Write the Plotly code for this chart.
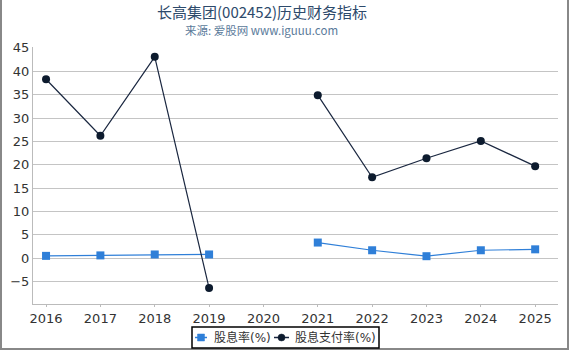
import plotly.graph_objects as go

years = [2016, 2017, 2018, 2019, 2020, 2021, 2022, 2023, 2024, 2025]
dividend_yield = [0.5, 0.6, 0.8, 0.8, None, 3.35, 1.7, 0.43, 1.7, 1.9]
payout_ratio = [38.3, 26.2, 43.1, -6.4, None, 34.9, 17.3, 21.4, 25.1, 19.7]
y_ticks = [-5, 0, 5, 10, 15, 20, 25, 30, 35, 40, 45]
series_names = ["股息率(%)", "股息支付率(%)"]
series_colors = ["#2f7fd8", "#0d1b2e"]
line_colors = ["#2f7fd8", "#1a2740"]

W, H = 570, 350
ml, mr, mt, mb = 33, 12, 47, 46
pw, ph = W - ml - mr, H - mt - mb

fig = go.Figure()
fig.add_trace(go.Scatter(
    x=years, y=dividend_yield, name=series_names[0], mode="lines+markers",
    line=dict(color=line_colors[0], width=1.2),
    marker=dict(symbol="square", size=8, color=series_colors[0]),
    connectgaps=False, showlegend=False))
fig.add_trace(go.Scatter(
    x=years, y=payout_ratio, name=series_names[1], mode="lines+markers",
    line=dict(color=line_colors[1], width=1.2),
    marker=dict(symbol="circle", size=8, color=series_colors[1]),
    connectgaps=False, showlegend=False))

def px_x(p):
    return (p - ml) / pw

def px_y(p):
    return (H - mb - p) / ph

# outer frame
fig.add_shape(type="rect", xref="paper", yref="paper",
              x0=px_x(1), x1=px_x(568), y0=px_y(349), y1=px_y(-5),
              line=dict(color="#888888", width=2), fillcolor="rgba(0,0,0,0)", layer="below")

# title
fig.add_annotation(text="长高集团(002452)历史财务指标", xref="paper", yref="paper",
                   x=px_x(262), y=px_y(11.5), xanchor="center", yanchor="middle",
                   showarrow=False,
                   font=dict(size=15, color="#2d4a6b", family="Noto Sans CJK SC, DejaVu Sans"))
fig.add_annotation(text="来源: 爱股网 www.iguuu.com", xref="paper", yref="paper",
                   x=px_x(261), y=px_y(29.5), xanchor="center", yanchor="middle",
                   showarrow=False,
                   font=dict(size=11.5, color="#5a7a9a", family="Noto Sans CJK SC, DejaVu Sans"))

# custom compact legend
ly = 337.5
fig.add_shape(type="rect", xref="paper", yref="paper",
              x0=px_x(192), x1=px_x(379), y0=px_y(348), y1=px_y(327),
              line=dict(color="#000000", width=1.5), fillcolor="white")
legend_items = [
    (series_names[0], "square", 195, 207, 212),
    (series_names[1], "circle", 274, 289, 293),
]
for i, (name, sym, lx0, lx1, tx) in enumerate(legend_items):
    fig.add_shape(type="line", xref="paper", yref="paper",
                  x0=px_x(lx0), x1=px_x(lx1), y0=px_y(ly), y1=px_y(ly),
                  line=dict(color=line_colors[i], width=1.5))
    cx = (lx0 + lx1) / 2
    r = 3.5
    fig.add_shape(type="rect" if sym == "square" else "circle", xref="paper", yref="paper",
                  x0=px_x(cx - r), x1=px_x(cx + r), y0=px_y(ly + r), y1=px_y(ly - r),
                  line=dict(color=series_colors[i], width=0.5), fillcolor=series_colors[i])
    fig.add_annotation(text=name, xref="paper", yref="paper",
                       x=px_x(tx), y=px_y(ly), xanchor="left", yanchor="middle",
                       showarrow=False,
                       font=dict(size=12, color="#333333", family="DejaVu Sans, Noto Sans CJK SC"))

fig.update_layout(
    width=W, height=H,
    margin=dict(l=ml, r=mr, t=mt, b=mb, autoexpand=False),
    paper_bgcolor="white", plot_bgcolor="white",
    font=dict(family="DejaVu Sans, Noto Sans CJK SC", size=13, color="#333333"),
    showlegend=False,
    xaxis=dict(range=[2015.76, 2025.42], tickmode="array", tickvals=years,
               ticktext=[str(y) for y in years], showgrid=False, zeroline=False,
               showline=True, linecolor="#bbbbbb", linewidth=1,
               ticks="outside", ticklen=2, tickcolor="#bbbbbb"),
    yaxis=dict(range=[-9.8, 45.2], tickmode="array", tickvals=y_ticks,
               showgrid=True, gridcolor="#c4c4c4", gridwidth=1, zeroline=False,
               showline=True, linecolor="#bbbbbb", linewidth=1, ticks=""),
)

fig.write_html("out.html")
